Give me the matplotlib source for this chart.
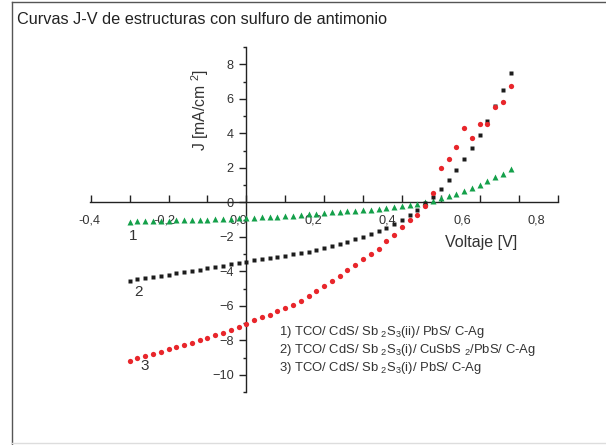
import numpy as np
import matplotlib
matplotlib.use("Agg")
import matplotlib.pyplot as plt
from matplotlib.ticker import MultipleLocator, NullFormatter
from matplotlib.lines import Line2D

plt.rcParams["font.family"] = ["Liberation Sans", "DejaVu Sans"]
plt.rcParams["mathtext.fontset"] = "custom"
plt.rcParams["mathtext.rm"] = "Liberation Sans"
plt.rcParams["mathtext.it"] = "Liberation Sans:italic"

# voltage steps of 0.02 V from -0.30 to 0.68 V
voltaje = np.round(np.arange(-0.30, 0.681, 0.02), 2)

# curve 1 (green triangles)
j_1 = [-1.12, -1.11, -1.10, -1.08, -1.07, -1.06, -1.05, -1.04, -1.02, -1.01,
       -1.00, -0.98, -0.97, -0.95, -0.93, -0.91, -0.89, -0.87, -0.85, -0.83,
       -0.80, -0.77, -0.74, -0.70, -0.66, -0.62, -0.59, -0.56, -0.53, -0.50,
       -0.46, -0.42, -0.37, -0.32, -0.27, -0.21, -0.16, -0.10, 0.00, 0.10,
       0.25, 0.37, 0.50, 0.65, 0.84, 1.01, 1.22, 1.45, 1.66, 1.92]

# curve 2 (black squares)
j_2 = [-4.54, -4.47, -4.39, -4.33, -4.27, -4.20, -4.12, -4.04, -3.98, -3.91,
       -3.83, -3.75, -3.69, -3.60, -3.54, -3.44, -3.36, -3.29, -3.21, -3.15,
       -3.09, -3.02, -2.94, -2.86, -2.76, -2.67, -2.53, -2.40, -2.28, -2.15,
       -2.01, -1.82, -1.65, -1.47, -1.25, -1.03, -0.72, -0.44, -0.05, 0.33,
       0.78, 1.29, 1.87, 2.49, 3.17, 3.92, 4.72, 5.59, 6.49, 7.47]

# curve 3 (red circles)
j_3 = [-9.18, -9.05, -8.90, -8.78, -8.66, -8.52, -8.39, -8.25, -8.14, -8.00,
       -7.87, -7.71, -7.56, -7.40, -7.23, -7.06, -6.84, -6.67, -6.51, -6.32,
       -6.13, -5.93, -5.70, -5.43, -5.14, -4.85, -4.54, -4.27, -3.92, -3.63,
       -3.30, -2.98, -2.68, -2.25, -1.88, -1.43, -1.02, -0.71, -0.23, 0.52,
       1.96, 2.50, 3.20, 4.31, 3.75, 4.51, 4.56, 5.51, 5.79, 6.77]

x_ticks = [-0.4, -0.2, 0.0, 0.2, 0.4, 0.6, 0.8]
x_labels = ["-0,4", "-0,2", "0,0", "0,2", "0,4", "0,6", "0,8"]
y_ticks = [-10, -8, -6, -4, -2, 0, 2, 4, 6, 8]

leyenda = [
    r"1) TCO/ CdS/ Sb $\mathregular{{}_2}$S$\mathregular{_3}$(ii)/ PbS/ C-Ag",
    r"2) TCO/ CdS/ Sb $\mathregular{{}_2}$S$\mathregular{_3}$(i)/ CuSbS $\mathregular{{}_2}$/PbS/ C-Ag",
    r"3) TCO/ CdS/ Sb $\mathregular{{}_2}$S$\mathregular{_3}$(i)/ PbS/ C-Ag",
]

fig = plt.figure(figsize=(6.06, 4.45), dpi=100)
ax = fig.add_axes([0.1477, 0.119, 0.7723, 0.7753])

ax.plot(voltaje, j_1, "^", color="#14a04a", ms=4, mec="none", zorder=3)
ax.plot(voltaje, j_2, "s", color="#1c1c1c", ms=3.4, mec="none", zorder=3)
ax.plot(voltaje, j_3, "o", color="#e8262b", ms=3.8, mec="none", zorder=3)

ax.set_xlim(-0.4, 0.8)
ax.set_ylim(-11, 9)

for s in ["top", "right"]:
    ax.spines[s].set_visible(False)
ax.spines["left"].set_position(("data", 0))
ax.spines["bottom"].set_position(("data", 0))
for s in ["left", "bottom"]:
    ax.spines[s].set_color("#222222")
    ax.spines[s].set_linewidth(1.0)

# x: tick marks every 0.1, labels drawn slightly shifted as in the original
ax.xaxis.set_minor_locator(MultipleLocator(0.1))
ax.xaxis.set_minor_formatter(NullFormatter())
ax.set_xticks([v * 0.9577 - 0.02 for v in x_ticks])
ax.set_xticklabels(x_labels)
ax.tick_params(axis="x", which="major", length=0, pad=9, labelsize=9.2,
               labelcolor="#333333")
ax.tick_params(axis="x", which="minor", direction="in", length=5, width=1,
               color="#222222")

ax.set_yticks(y_ticks)
ax.yaxis.set_minor_locator(MultipleLocator(1))
ax.tick_params(axis="y", which="major", direction="out", length=5, width=1,
               pad=4, labelsize=9.2, labelcolor="#333333", color="#222222")
ax.tick_params(axis="y", which="minor", direction="out", length=2.5, width=1,
               color="#222222")

ax.text(-0.119, 5.35, r"J [mA/cm $\mathregular{^2}$]", rotation=90,
        ha="center", va="center", fontsize=11.3, color="#333333")
ax.text(0.604, -2.34, "Voltaje [V]", ha="center", va="center",
        fontsize=11.5, color="#333333")

for etiqueta, xx, yy in [("1", -0.29, -1.95), ("2", -0.276, -5.18), ("3", -0.26, -9.49)]:
    ax.text(xx, yy, etiqueta, ha="center", va="center", fontsize=11,
            color="#333333")

for i, linea in enumerate(leyenda):
    ax.text(0.083, -7.52 - 1.05 * i, linea, ha="left", va="center",
            fontsize=9.4, color="#333333")

fig.text(17 / 606, 1 - 19.3 / 445, "Curvas J-V de estructuras con sulfuro de antimonio",
         ha="left", va="center", fontsize=11.7, color="#222222")

# frame around the figure
fig.add_artist(Line2D([11.5 / 606, 11.5 / 606], [0, 1 - 2 / 445],
                      transform=fig.transFigure, color="#555555", lw=1))
fig.add_artist(Line2D([11.5 / 606, 1], [1 - 2 / 445, 1 - 2 / 445],
                      transform=fig.transFigure, color="#555555", lw=1))
fig.add_artist(Line2D([11.5 / 606, 1], [1 - 443 / 445, 1 - 443 / 445],
                      transform=fig.transFigure, color="#dddddd", lw=1))

fig.savefig("out.png", dpi=100)
